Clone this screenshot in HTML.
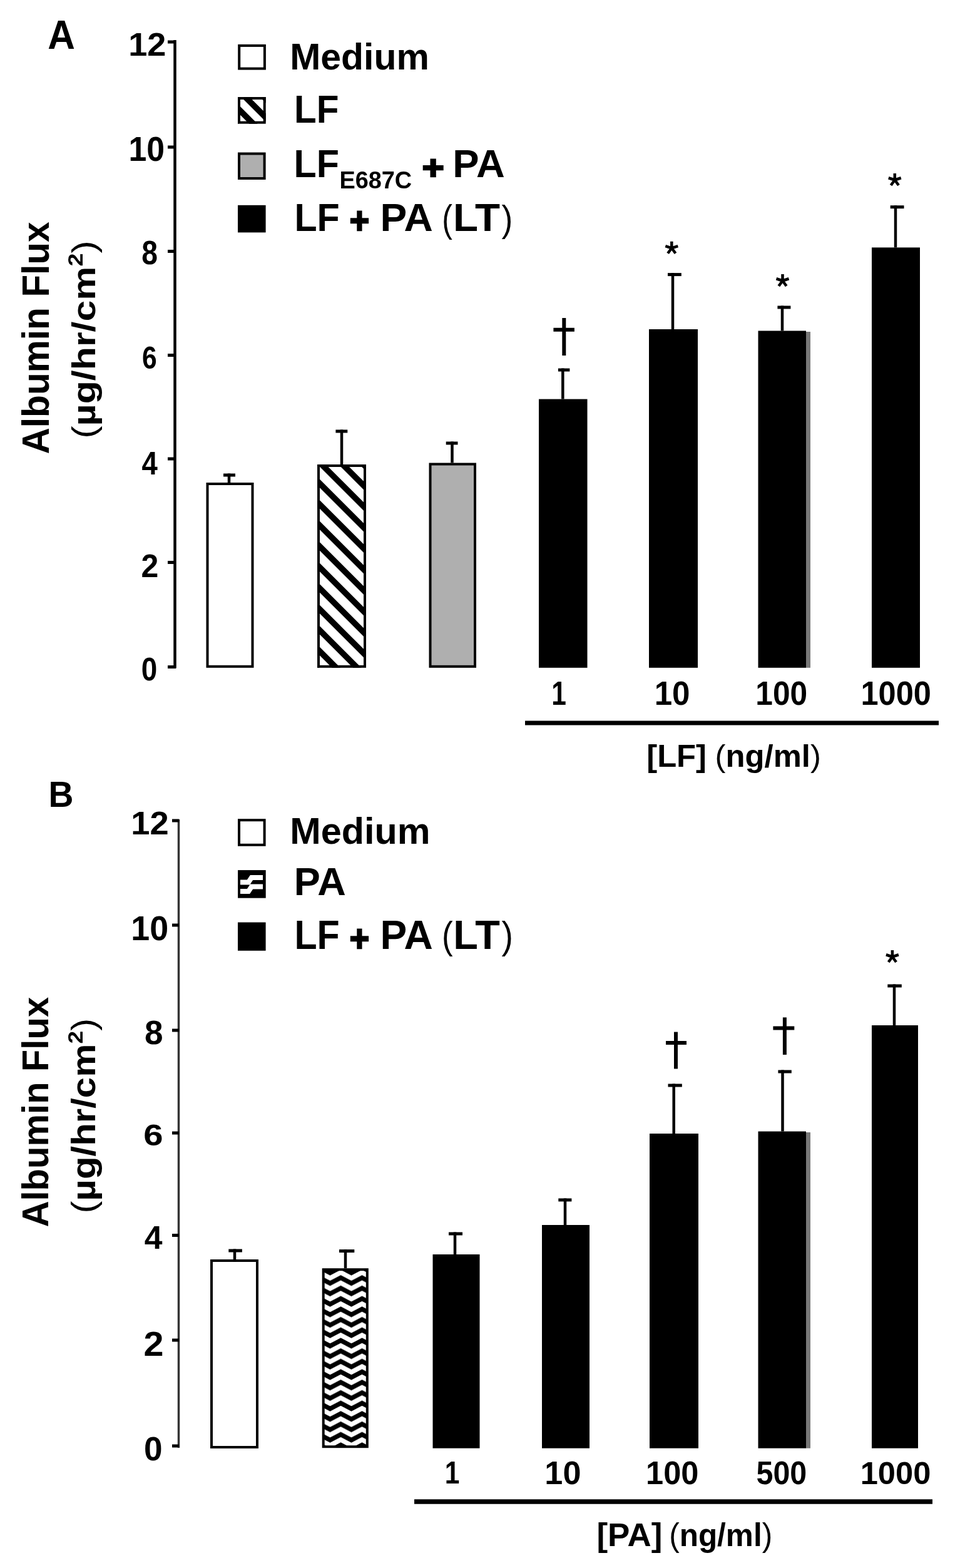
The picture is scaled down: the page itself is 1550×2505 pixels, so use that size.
<!DOCTYPE html>
<html><head><meta charset="utf-8"><title>Albumin Flux</title>
<style>html,body{margin:0;padding:0;background:#fff;}svg{display:block;}</style></head>
<body><svg width="1550" height="2505" viewBox="0 0 1550 2505" font-family="Liberation Sans, Arial, Helvetica, sans-serif">
<rect width="1550" height="2505" fill="#fff"/>
<defs>
<pattern id="wave" patternUnits="userSpaceOnUse" width="34" height="16.7" x="519" y="2029"><rect width="34" height="16.7" fill="#fff"/><path d="M-34.00,0.00 L-25.50,4.50 L-17.00,0.00 L-8.50,-4.50 L0.00,0.00 L8.50,4.50 L17.00,0.00 L25.50,-4.50 L34.00,0.00 L42.50,4.50 L51.00,0.00 L59.50,-4.50 L68.00,0.00" fill="none" stroke="#000" stroke-width="7.4" stroke-linejoin="miter"/><path d="M-34.00,16.70 L-25.50,21.20 L-17.00,16.70 L-8.50,12.20 L0.00,16.70 L8.50,21.20 L17.00,16.70 L25.50,12.20 L34.00,16.70 L42.50,21.20 L51.00,16.70 L59.50,12.20 L68.00,16.70" fill="none" stroke="#000" stroke-width="7.4" stroke-linejoin="miter"/><path d="M-34.00,-16.70 L-25.50,-12.20 L-17.00,-16.70 L-8.50,-21.20 L0.00,-16.70 L8.50,-12.20 L17.00,-16.70 L25.50,-21.20 L34.00,-16.70 L42.50,-12.20 L51.00,-16.70 L59.50,-21.20 L68.00,-16.70" fill="none" stroke="#000" stroke-width="7.4" stroke-linejoin="miter"/><path d="M-34.00,33.40 L-25.50,37.90 L-17.00,33.40 L-8.50,28.90 L0.00,33.40 L8.50,37.90 L17.00,33.40 L25.50,28.90 L34.00,33.40 L42.50,37.90 L51.00,33.40 L59.50,28.90 L68.00,33.40" fill="none" stroke="#000" stroke-width="7.4" stroke-linejoin="miter"/></pattern>
</defs>
<line x1="279.5" y1="64" x2="279.5" y2="1067.5" stroke="#000" stroke-width="4.5"/>
<line x1="268" y1="67" x2="281" y2="67" stroke="#000" stroke-width="5"/>
<line x1="268" y1="235" x2="281" y2="235" stroke="#000" stroke-width="5"/>
<line x1="268" y1="401.5" x2="281" y2="401.5" stroke="#000" stroke-width="5"/>
<line x1="268" y1="567.5" x2="281" y2="567.5" stroke="#000" stroke-width="5"/>
<line x1="268" y1="733" x2="281" y2="733" stroke="#000" stroke-width="5"/>
<line x1="268" y1="898.5" x2="281" y2="898.5" stroke="#000" stroke-width="5"/>
<line x1="268" y1="1065.5" x2="281" y2="1065.5" stroke="#000" stroke-width="5"/>
<rect x="382.2" y="72.9" width="40.69999999999999" height="36.69999999999999" fill="#fff" stroke="#000" stroke-width="4"/>
<clipPath id="hl1"><rect x="380" y="155" width="44.69999999999999" height="42.69999999999999"/></clipPath>
<rect x="380" y="155" width="44.69999999999999" height="42.69999999999999" fill="#fff"/>
<g clip-path="url(#hl1)">
<line x1="375" y1="48" x2="429.7" y2="102.69999999999999" stroke="#000" stroke-width="9.5"/>
<line x1="375" y1="78" x2="429.7" y2="132.7" stroke="#000" stroke-width="9.5"/>
<line x1="375" y1="108" x2="429.7" y2="162.7" stroke="#000" stroke-width="9.5"/>
<line x1="375" y1="138" x2="429.7" y2="192.7" stroke="#000" stroke-width="9.5"/>
<line x1="375" y1="168" x2="429.7" y2="222.7" stroke="#000" stroke-width="9.5"/>
<line x1="375" y1="198" x2="429.7" y2="252.7" stroke="#000" stroke-width="9.5"/>
<line x1="375" y1="228" x2="429.7" y2="282.7" stroke="#000" stroke-width="9.5"/>
</g>
<rect x="382.0" y="157.0" width="40.69999999999999" height="38.69999999999999" fill="none" stroke="#000" stroke-width="4"/>
<rect x="382.0" y="245.5" width="40.60000000000002" height="39.5" fill="#afafaf" stroke="#000" stroke-width="4"/>
<rect x="382.0" y="329.8" width="40.60000000000002" height="39.599999999999966" fill="#000" stroke="#000" stroke-width="4"/>
<rect x="331.5" y="773.0" width="72.0" height="291.79999999999995" fill="#fff" stroke="#000" stroke-width="4"/>
<line x1="366" y1="771" x2="366" y2="756.5" stroke="#000" stroke-width="4.5"/>
<line x1="357" y1="759" x2="376" y2="759" stroke="#000" stroke-width="5"/>
<clipPath id="hb1"><rect x="507" y="742" width="78" height="324.79999999999995"/></clipPath>
<rect x="507" y="742" width="78" height="324.79999999999995" fill="#fff"/>
<g clip-path="url(#hb1)">
<line x1="502" y1="596.0" x2="590" y2="684.0" stroke="#000" stroke-width="9.5"/>
<line x1="502" y1="629.5" x2="590" y2="717.5" stroke="#000" stroke-width="9.5"/>
<line x1="502" y1="663.0" x2="590" y2="751.0" stroke="#000" stroke-width="9.5"/>
<line x1="502" y1="696.5" x2="590" y2="784.5" stroke="#000" stroke-width="9.5"/>
<line x1="502" y1="730.0" x2="590" y2="818.0" stroke="#000" stroke-width="9.5"/>
<line x1="502" y1="763.5" x2="590" y2="851.5" stroke="#000" stroke-width="9.5"/>
<line x1="502" y1="797.0" x2="590" y2="885.0" stroke="#000" stroke-width="9.5"/>
<line x1="502" y1="830.5" x2="590" y2="918.5" stroke="#000" stroke-width="9.5"/>
<line x1="502" y1="864.0" x2="590" y2="952.0" stroke="#000" stroke-width="9.5"/>
<line x1="502" y1="897.5" x2="590" y2="985.5" stroke="#000" stroke-width="9.5"/>
<line x1="502" y1="931.0" x2="590" y2="1019.0" stroke="#000" stroke-width="9.5"/>
<line x1="502" y1="964.5" x2="590" y2="1052.5" stroke="#000" stroke-width="9.5"/>
<line x1="502" y1="998.0" x2="590" y2="1086.0" stroke="#000" stroke-width="9.5"/>
<line x1="502" y1="1031.5" x2="590" y2="1119.5" stroke="#000" stroke-width="9.5"/>
<line x1="502" y1="1065.0" x2="590" y2="1153.0" stroke="#000" stroke-width="9.5"/>
<line x1="502" y1="1098.5" x2="590" y2="1186.5" stroke="#000" stroke-width="9.5"/>
</g>
<rect x="509.0" y="744.0" width="74" height="320.79999999999995" fill="none" stroke="#000" stroke-width="4"/>
<line x1="546" y1="742" x2="546" y2="686.5" stroke="#000" stroke-width="4.5"/>
<line x1="536.4" y1="689" x2="555.3" y2="689" stroke="#000" stroke-width="5"/>
<rect x="687.5" y="741.5" width="71.5" height="323.29999999999995" fill="#afafaf" stroke="#000" stroke-width="4"/>
<line x1="722.5" y1="739.5" x2="722.5" y2="705.5" stroke="#000" stroke-width="4.5"/>
<line x1="712.7" y1="708" x2="731.5" y2="708" stroke="#000" stroke-width="5"/>
<rect x="1288" y="530" width="7" height="536.8" fill="#787878"/>
<rect x="863.0" y="639.6" width="73.5" height="425.19999999999993" fill="#000" stroke="#000" stroke-width="4"/>
<line x1="899.3" y1="637.6" x2="899.3" y2="588.5" stroke="#000" stroke-width="4.5"/>
<line x1="891.9" y1="591" x2="910.4" y2="591" stroke="#000" stroke-width="5"/>
<rect x="1039.0" y="528.0" width="74" height="536.8" fill="#000" stroke="#000" stroke-width="4"/>
<line x1="1075" y1="526" x2="1075" y2="436.1" stroke="#000" stroke-width="4.5"/>
<line x1="1067" y1="438.6" x2="1088.8" y2="438.6" stroke="#000" stroke-width="5"/>
<rect x="1213.5" y="530.5" width="72.5" height="534.3" fill="#000" stroke="#000" stroke-width="4"/>
<line x1="1250" y1="528.5" x2="1250" y2="488.5" stroke="#000" stroke-width="4.5"/>
<line x1="1242.4" y1="491" x2="1263.4" y2="491" stroke="#000" stroke-width="5"/>
<rect x="1395.0" y="397.4" width="73" height="667.4" fill="#000" stroke="#000" stroke-width="4"/>
<line x1="1431" y1="395.4" x2="1431" y2="328.2" stroke="#000" stroke-width="4.5"/>
<line x1="1422.7" y1="330.7" x2="1444.5" y2="330.7" stroke="#000" stroke-width="5"/>
<line x1="901.3" y1="508" x2="901.3" y2="568" stroke="#000" stroke-width="6"/>
<line x1="884.4" y1="526.7" x2="917.9" y2="526.7" stroke="#000" stroke-width="6"/>
<path d="M1073.30,396.30L1073.30,385.80 M1073.30,396.30L1083.29,393.06 M1073.30,396.30L1079.47,404.79 M1073.30,396.30L1067.13,404.79 M1073.30,396.30L1063.31,393.06" stroke="#000" stroke-width="4.5" fill="none"/>
<path d="M1250.50,448.50L1250.50,438.00 M1250.50,448.50L1260.49,445.26 M1250.50,448.50L1256.67,456.99 M1250.50,448.50L1244.33,456.99 M1250.50,448.50L1240.51,445.26" stroke="#000" stroke-width="4.5" fill="none"/>
<path d="M1429.80,287.50L1429.80,277.00 M1429.80,287.50L1439.79,284.26 M1429.80,287.50L1435.97,295.99 M1429.80,287.50L1423.63,295.99 M1429.80,287.50L1419.81,284.26" stroke="#000" stroke-width="4.5" fill="none"/>
<line x1="839" y1="1155" x2="1500" y2="1155" stroke="#000" stroke-width="7"/>
<line x1="285.5" y1="1309" x2="285.5" y2="2313" stroke="#333" stroke-width="3.5"/>
<line x1="275" y1="1311" x2="286" y2="1311" stroke="#000" stroke-width="5"/>
<line x1="275" y1="1478" x2="286" y2="1478" stroke="#000" stroke-width="5"/>
<line x1="275" y1="1646" x2="286" y2="1646" stroke="#000" stroke-width="5"/>
<line x1="275" y1="1810" x2="286" y2="1810" stroke="#000" stroke-width="5"/>
<line x1="275" y1="1973.5" x2="286" y2="1973.5" stroke="#000" stroke-width="5"/>
<line x1="275" y1="2141" x2="286" y2="2141" stroke="#000" stroke-width="5"/>
<line x1="275" y1="2310" x2="286" y2="2310" stroke="#000" stroke-width="5"/>
<rect x="382.0" y="1310.2" width="40.60000000000002" height="39.59999999999991" fill="#fff" stroke="#000" stroke-width="4"/>
<rect x="382.1" y="1392.1" width="40.599999999999966" height="40.600000000000136" fill="#000" stroke="#000" stroke-width="4"/>
<path d="M384,1409.5 L397,1409.5 L402,1402 L420,1402 M384,1424 L397,1424 L402,1416.5 L420,1416.5" fill="none" stroke="#fff" stroke-width="8"/>
<rect x="382.0" y="1475.5" width="40.60000000000002" height="41.299999999999955" fill="#000" stroke="#000" stroke-width="4"/>
<rect x="338.0" y="2014.0" width="73" height="298" fill="#fff" stroke="#000" stroke-width="4"/>
<line x1="375" y1="2012" x2="375" y2="1995.5" stroke="#000" stroke-width="4.5"/>
<line x1="365.3" y1="1998" x2="386.9" y2="1998" stroke="#000" stroke-width="5"/>
<rect x="516.7" y="2028.2" width="70.1" height="283" fill="url(#wave)" stroke="#000" stroke-width="4"/>
<line x1="552" y1="2026" x2="552" y2="1996.1" stroke="#000" stroke-width="4.5"/>
<line x1="542" y1="1998.6" x2="566.3" y2="1998.6" stroke="#000" stroke-width="5"/>
<rect x="1288" y="1809" width="7" height="504.7" fill="#787878"/>
<rect x="693.5" y="2006.0" width="71.0" height="305.6999999999998" fill="#000" stroke="#000" stroke-width="4"/>
<line x1="727" y1="2004" x2="727" y2="1968.5" stroke="#000" stroke-width="4.5"/>
<line x1="717" y1="1971" x2="739" y2="1971" stroke="#000" stroke-width="5"/>
<rect x="868.0" y="1959.0" width="72" height="352.6999999999998" fill="#000" stroke="#000" stroke-width="4"/>
<line x1="903" y1="1957" x2="903" y2="1914.5" stroke="#000" stroke-width="4.5"/>
<line x1="892.3" y1="1917" x2="913.4" y2="1917" stroke="#000" stroke-width="5"/>
<rect x="1040.0" y="1813.0" width="74" height="498.6999999999998" fill="#000" stroke="#000" stroke-width="4"/>
<line x1="1076.7" y1="1811" x2="1076.7" y2="1731.5" stroke="#000" stroke-width="4.5"/>
<line x1="1067.5" y1="1734" x2="1089.8" y2="1734" stroke="#000" stroke-width="5"/>
<rect x="1213.5" y="1809.5" width="72.5" height="502.1999999999998" fill="#000" stroke="#000" stroke-width="4"/>
<line x1="1250.5" y1="1807.5" x2="1250.5" y2="1709.5" stroke="#000" stroke-width="4.5"/>
<line x1="1243.4" y1="1712" x2="1264.8" y2="1712" stroke="#000" stroke-width="5"/>
<rect x="1395.0" y="1640.0" width="70" height="671.6999999999998" fill="#000" stroke="#000" stroke-width="4"/>
<line x1="1429" y1="1638" x2="1429" y2="1572.5" stroke="#000" stroke-width="4.5"/>
<line x1="1418.3" y1="1575" x2="1440.8" y2="1575" stroke="#000" stroke-width="5"/>
<line x1="1080" y1="1648.6" x2="1080" y2="1707.5" stroke="#000" stroke-width="6"/>
<line x1="1064" y1="1666" x2="1097" y2="1666" stroke="#000" stroke-width="6"/>
<line x1="1253.9" y1="1625.4" x2="1253.9" y2="1685" stroke="#000" stroke-width="6"/>
<line x1="1235.4" y1="1642.4" x2="1269.3" y2="1642.4" stroke="#000" stroke-width="6"/>
<path d="M1425.90,1528.50L1425.90,1518.00 M1425.90,1528.50L1435.89,1525.26 M1425.90,1528.50L1432.07,1536.99 M1425.90,1528.50L1419.73,1536.99 M1425.90,1528.50L1415.91,1525.26" stroke="#000" stroke-width="4.5" fill="none"/>
<line x1="662" y1="2399" x2="1490" y2="2399" stroke="#000" stroke-width="7.5"/>
<text transform="translate(-1.69,-5.64) scale(1.0075,1.0659) translate(77.4,78.0)" font-size="60" font-weight="bold">A</text>
<text transform="translate(-19.88,-4.62) scale(1.0824,1.0486) translate(208.0,89.2)" font-size="50" font-weight="bold">12</text>
<text transform="translate(-10.10,-32.51) scale(1.0360,1.1257) translate(208.0,257.3)" font-size="50" font-weight="bold">10</text>
<text transform="translate(15.98,-25.23) scale(0.9250,1.0571) translate(227.3,423.5)" font-size="50" font-weight="bold">8</text>
<text transform="translate(33.45,-7.34) scale(0.8500,1.0114) translate(227.6,589.9)" font-size="50" font-weight="bold">6</text>
<text transform="translate(19.77,-22.16) scale(0.9111,1.0286) translate(227.0,758.0)" font-size="50" font-weight="bold">4</text>
<text transform="translate(-1.50,-32.35) scale(1.0000,1.0343) translate(227.0,922.8)" font-size="50" font-weight="bold">2</text>
<text transform="translate(17.58,-31.56) scale(0.9167,1.0286) translate(227.0,1087.0)" font-size="50" font-weight="bold">0</text>
<text transform="translate(-10.64,-4.90) scale(1.0160,1.0357) translate(466.4,111.6)" font-size="58" font-weight="bold">Medium</text>
<text transform="translate(-7.38,-18.82) scale(1.0077,1.0900) translate(473.8,197.5)" font-size="58" font-weight="bold">LF</text>
<text transform="translate(-13.67,-26.46) scale(1.0215,1.0900) translate(473.1,283.6)" font-size="58" font-weight="bold">LF</text>
<text transform="translate(-0.05,-5.67) scale(0.9964,1.0185) translate(544.5,301.4)" font-size="38" font-weight="bold">E687C</text>
<text transform="translate(-29.39,22.97) scale(1.0419,0.9290) translate(675.5,283.6)" font-size="58" font-weight="bold" stroke="#000" stroke-width="2.6">+</text>
<text transform="translate(-71.35,-22.91) scale(1.0930,1.0775) translate(727.1,283.6)" font-size="58" font-weight="bold">PA</text>
<text transform="translate(-12.54,-27.88) scale(1.0200,1.0750) translate(473.5,369.3)" font-size="58" font-weight="bold">LF</text>
<text transform="translate(41.60,-5.62) scale(0.9250,1.0258) translate(559.1,369.3)" font-size="58" font-weight="bold" stroke="#000" stroke-width="2.6">+</text>
<text transform="translate(-68.04,-27.88) scale(1.1043,1.0750) translate(611.7,369.3)" font-size="58" font-weight="bold">PA</text>
<text transform="translate(96.42,-26.79) scale(0.8600,1.0370) translate(709.1,382.3)" font-size="58" font-weight="normal">(</text>
<text transform="translate(-97.95,-27.88) scale(1.1290,1.0750) translate(728.0,369.3)" font-size="58" font-weight="bold">LT</text>
<text transform="translate(63.74,-26.79) scale(0.9200,1.0370) translate(802.0,382.3)" font-size="58" font-weight="normal">)</text>
<text transform="translate(129.28,-97.69) scale(0.8500,1.0857) translate(884.6,1127.5)" font-size="50" font-weight="bold">1</text>
<text transform="translate(-26.04,-97.69) scale(1.0220,1.0857) translate(1048.6,1127.5)" font-size="50" font-weight="bold">10</text>
<text transform="translate(6.73,-97.69) scale(0.9923,1.0857) translate(1209.9,1127.5)" font-size="50" font-weight="bold">100</text>
<text transform="translate(-18.65,-97.69) scale(1.0113,1.0857) translate(1378.5,1127.5)" font-size="50" font-weight="bold">1000</text>
<text transform="translate(-17.78,-0.17) scale(1.0146,0.9913) translate(1035.9,1235.5)" font-size="50" font-weight="bold">[LF]</text>
<text transform="translate(-20.85,-0.17) scale(1.0156,0.9913) translate(1145.6,1235.5)" font-size="50" font-weight="normal">(<tspan font-weight="bold">ng/ml</tspan>)</text>
<text transform="translate(-4.21,-6.53) scale(1.0476,1.0104) translate(78.0,724.5) rotate(-90)" font-size="58" font-weight="bold">Albumin Flux</text>
<text transform="translate(3.54,-31.23) scale(0.9083,1.0493) translate(163.0,697.5) rotate(-90)" font-size="58" font-weight="bold"><tspan font-weight="normal">(</tspan>&#181;g/hr/cm<tspan font-size="36" dy="-22">2</tspan><tspan dy="22" font-weight="normal">)</tspan></text>
<text transform="translate(-2.50,-14.08) scale(0.9882,1.0105) translate(81.0,1290.0)" font-size="56" font-weight="bold">B</text>
<text transform="translate(-21.58,-31.29) scale(1.0860,1.0229) translate(212.5,1333.7)" font-size="50" font-weight="bold">12</text>
<text transform="translate(-19.42,-172.16) scale(1.0760,1.1143) translate(212.5,1502.0)" font-size="50" font-weight="bold">10</text>
<text transform="translate(-15.82,-119.71) scale(1.0625,1.0714) translate(232.3,1669.0)" font-size="50" font-weight="bold">8</text>
<text transform="translate(-30.62,41.15) scale(1.1250,0.9771) translate(231.0,1830.8)" font-size="50" font-weight="bold">6</text>
<text transform="translate(-8.13,-40.72) scale(1.0333,1.0200) translate(231.1,1995.7)" font-size="50" font-weight="bold">4</text>
<text transform="translate(-36.10,-229.58) scale(1.1500,1.1057) translate(231.0,2167.0)" font-size="50" font-weight="bold">2</text>
<text transform="translate(-15.76,-133.87) scale(1.0625,1.0571) translate(231.3,2334.0)" font-size="50" font-weight="bold">0</text>
<text transform="translate(-14.18,-13.14) scale(1.0236,1.0095) translate(466.4,1348.2)" font-size="58" font-weight="bold">Medium</text>
<text transform="translate(-44.85,-107.83) scale(1.0873,1.0750) translate(473.3,1431.0)" font-size="58" font-weight="bold">PA</text>
<text transform="translate(-12.54,-163.17) scale(1.0200,1.1075) translate(473.5,1516.3)" font-size="58" font-weight="bold">LF</text>
<text transform="translate(41.60,-49.85) scale(0.9250,1.0355) translate(559.1,1516.3)" font-size="58" font-weight="bold" stroke="#000" stroke-width="2.6">+</text>
<text transform="translate(-68.04,-163.17) scale(1.1043,1.1075) translate(611.7,1516.3)" font-size="58" font-weight="bold">PA</text>
<text transform="translate(58.39,-83.45) scale(0.9133,1.0463) translate(709.1,1527.3)" font-size="58" font-weight="normal">(</text>
<text transform="translate(-90.10,-163.17) scale(1.1177,1.1075) translate(728.7,1516.3)" font-size="58" font-weight="bold">LT</text>
<text transform="translate(36.97,-83.45) scale(0.9533,1.0463) translate(802.0,1527.3)" font-size="58" font-weight="normal">)</text>
<text transform="translate(102.68,19.42) scale(0.8500,0.9914) translate(715.5,2370.6)" font-size="50" font-weight="bold">1</text>
<text transform="translate(-41.04,-116.11) scale(1.0440,1.0486) translate(873.0,2371.6)" font-size="50" font-weight="bold">10</text>
<text transform="translate(-14.01,-116.11) scale(1.0114,1.0486) translate(1034.3,2371.6)" font-size="50" font-weight="bold">100</text>
<text transform="translate(38.36,-116.11) scale(0.9675,1.0486) translate(1209.5,2371.6)" font-size="50" font-weight="bold">500</text>
<text transform="translate(-20.63,-28.01) scale(1.0132,1.0114) translate(1377.1,2371.6)" font-size="50" font-weight="bold">1000</text>
<text transform="translate(-59.07,-97.68) scale(1.0596,1.0348) translate(955.5,2481.5)" font-size="50" font-weight="bold">[PA]</text>
<text transform="translate(8.47,-97.68) scale(0.9901,1.0348) translate(1071.3,2481.5)" font-size="50" font-weight="normal">(<tspan font-weight="bold">ng/ml</tspan>)</text>
<text transform="translate(-2.58,-1.68) scale(1.0310,1.0014) translate(77.3,1959.5) rotate(-90)" font-size="58" font-weight="bold">Albumin Flux</text>
<text transform="translate(3.16,-62.18) scale(0.9117,1.0340) translate(163.2,1935.0) rotate(-90)" font-size="58" font-weight="bold"><tspan font-weight="normal">(</tspan>&#181;g/hr/cm<tspan font-size="36" dy="-22">2</tspan><tspan dy="22" font-weight="normal">)</tspan></text>
</svg></body></html>
